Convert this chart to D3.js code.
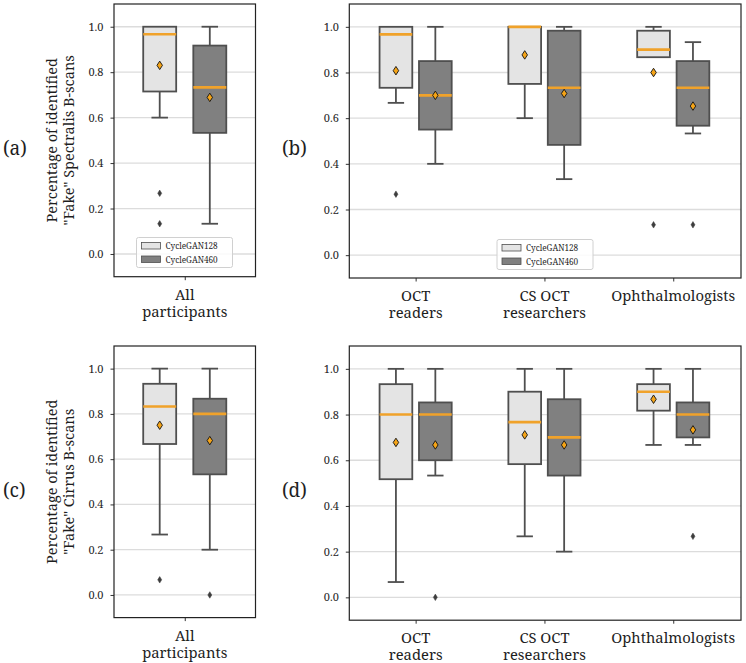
<!DOCTYPE html>
<html>
<head>
<meta charset="utf-8">
<script src="https://cdn.jsdelivr.net/npm/d3@7"></script>
<style>
  body { margin: 0; background: #fff; }
  svg { display: block; }
</style>
</head>
<body>
<svg id="chart" width="746" height="663"></svg>
<script>
// ---------------- DATA ----------------
const seriesNames = ["CycleGAN128", "CycleGAN460"];
const catsAll = [["All", "participants"]];
const catsGroups = [["OCT", "readers"], ["CS OCT", "researchers"], ["Ophthalmologists"]];
const yTicks = [0.0, 0.2, 0.4, 0.6, 0.8, 1.0];
const yLabelSpectralis = ["Percentage of identified", "\"Fake\" Spectralis B-scans"];
const yLabelCirrus = ["Percentage of identified", "\"Fake\" Cirrus B-scans"];
const panelLetters = ["(a)", "(b)", "(c)", "(d)"];

// box stats per category: [q1, median, q3, whiskerLow, whiskerHigh, mean, outliers]
const specAll128 = [[0.715, 0.967, 1.0, 0.600, 1.0, 0.830, [0.267, 0.133]]];
const specAll460 = [[0.533, 0.733, 0.917, 0.133, 1.0, 0.689, []]];
const specGrp128 = [
  [0.733, 0.967, 1.0, 0.667, 1.0, 0.808, [0.267]],
  [0.750, 1.000, 1.0, 0.600, 1.0, 0.877, []],
  [0.867, 0.900, 0.983, 0.867, 1.0, 0.800, [0.133]]
];
const specGrp460 = [
  [0.550, 0.700, 0.850, 0.400, 1.0, 0.700, []],
  [0.483, 0.733, 0.983, 0.333, 1.0, 0.708, []],
  [0.567, 0.733, 0.850, 0.533, 0.933, 0.653, [0.133]]
];
const cirrAll128 = [[0.667, 0.833, 0.933, 0.267, 1.0, 0.750, [0.067]]];
const cirrAll460 = [[0.533, 0.800, 0.867, 0.200, 1.0, 0.682, [0.0]]];
const cirrGrp128 = [
  [0.517, 0.800, 0.933, 0.067, 1.0, 0.678, []],
  [0.583, 0.767, 0.900, 0.267, 1.0, 0.711, []],
  [0.817, 0.900, 0.933, 0.667, 1.0, 0.867, []]
];
const cirrGrp460 = [
  [0.600, 0.800, 0.853, 0.533, 1.0, 0.667, [0.0]],
  [0.533, 0.700, 0.867, 0.200, 1.0, 0.667, []],
  [0.700, 0.800, 0.853, 0.667, 1.0, 0.733, [0.267]]
];

// ---------------- STYLE / LAYOUT ----------------
const fontStack = "'Noto Serif', 'Liberation Serif', serif";
const fills = ["#e4e4e4", "#808080"];
const edge = "#4f4f4f";
const medianColor = "#f0a22a";
const gridColor = "#dcdcdc";
const txt = "#1e1e1e";

const svg = d3.select("#chart");

function diamond(w, h) {
  return `M0,${-h/2}L${w/2},0L0,${h/2}L${-w/2},0Z`;
}

function drawPanel(cfg) {
  const { x0, x1, y0, y1, cats, data, xDomain, hueOff, boxW, legend, ylabel, letter, letterX, letterY, labelX } = cfg;
  const g = svg.append("g");
  const y = d3.scaleLinear().domain([-0.1, 1.1]).range([y1, y0]);
  const x = d3.scaleLinear().domain(xDomain).range([x0, x1]);

  // grid
  g.selectAll("line.grid").data(yTicks).enter().append("line")
    .attr("x1", x0).attr("x2", x1)
    .attr("y1", d => y(d)).attr("y2", d => y(d))
    .attr("stroke", gridColor).attr("stroke-width", 1.3);

  // y axis
  const yAxis = d3.axisLeft(y).tickValues(yTicks).tickFormat(d3.format(".1f")).tickSize(3.5).tickPadding(7);
  const ya = g.append("g").attr("transform", `translate(${x0},0)`).call(yAxis);
  ya.attr("font-family", null).attr("font-size", null);
  ya.select(".domain").remove();
  ya.selectAll("line").attr("stroke", "#333").attr("stroke-width", 1);
  ya.selectAll("text").attr("font-size", 11).attr("fill", txt);

  // x axis ticks
  const xAxis = d3.axisBottom(x).tickValues(d3.range(cats.length)).tickFormat("").tickSize(3.5);
  const xa = g.append("g").attr("transform", `translate(0,${y1})`).call(xAxis);
  xa.select(".domain").remove();
  xa.selectAll("line").attr("stroke", "#333");

  // x labels (one text element per category, lines as tspans)
  cats.forEach((lines, i) => {
    const t = g.append("text").attr("x", x(i)).attr("y", y1 + 23)
      .attr("text-anchor", "middle").attr("font-size", 14.8).attr("fill", txt);
    lines.forEach((s, j) => {
      t.append("tspan").attr("x", x(i)).attr("dy", j === 0 ? 0 : 17).text(s);
    });
  });

  // boxes
  data.forEach((series, si) => {
    series.forEach((s, ci) => {
      const [q1, med, q3, wlo, whi, mean, outs] = s;
      const cx = x(ci + (si === 0 ? -hueOff : hueOff));
      const half = (x(boxW) - x(0)) / 2;
      const bg = g.append("g");
      bg.append("line").attr("x1", cx).attr("x2", cx).attr("y1", y(q3)).attr("y2", y(whi))
        .attr("stroke", edge).attr("stroke-width", 1.8);
      bg.append("line").attr("x1", cx).attr("x2", cx).attr("y1", y(q1)).attr("y2", y(wlo))
        .attr("stroke", edge).attr("stroke-width", 1.8);
      if (whi > q3) bg.append("line").attr("x1", cx - half / 2).attr("x2", cx + half / 2)
        .attr("y1", y(whi)).attr("y2", y(whi)).attr("stroke", edge).attr("stroke-width", 1.8);
      if (wlo < q1) bg.append("line").attr("x1", cx - half / 2).attr("x2", cx + half / 2)
        .attr("y1", y(wlo)).attr("y2", y(wlo)).attr("stroke", edge).attr("stroke-width", 1.8);
      bg.append("rect").attr("x", cx - half).attr("width", 2 * half)
        .attr("y", y(q3)).attr("height", Math.max(0.5, y(q1) - y(q3)))
        .attr("fill", fills[si]).attr("stroke", edge).attr("stroke-width", 1.8);
      bg.append("line").attr("x1", cx - half).attr("x2", cx + half)
        .attr("y1", y(med)).attr("y2", y(med)).attr("stroke", medianColor).attr("stroke-width", 2.6);
      bg.append("path").attr("d", diamond(5.5, 8.5)).attr("transform", `translate(${cx},${y(mean)})`)
        .attr("fill", "#f5a417").attr("stroke", "#111").attr("stroke-width", 0.9);
      outs.forEach(o => {
        bg.append("path").attr("d", diamond(4, 6.5)).attr("transform", `translate(${cx},${y(o)})`)
          .attr("fill", "#3d3d3d").attr("stroke", "#3d3d3d").attr("stroke-width", 0.5);
      });
    });
  });

  // frame
  g.append("rect").attr("x", x0).attr("y", y0).attr("width", x1 - x0).attr("height", y1 - y0)
    .attr("fill", "none").attr("stroke", "#222").attr("stroke-width", 1.2);

  // legend
  if (legend) {
    const lg = g.append("g").attr("transform", `translate(${legend[0]},${legend[1]})`);
    lg.append("rect").attr("width", 96).attr("height", 30).attr("rx", 2)
      .attr("fill", "rgba(255,255,255,0.85)").attr("stroke", "#d0d0d0").attr("stroke-width", 1);
    seriesNames.forEach((n, i) => {
      lg.append("rect").attr("x", 5).attr("y", 5 + i * 13.5).attr("width", 19).attr("height", 6.5)
        .attr("fill", fills[i]).attr("stroke", edge).attr("stroke-width", 0.8);
      lg.append("text").attr("x", 29).attr("y", 11.5 + i * 13.5).attr("font-size", 8.2)
        .attr("fill", txt).text(n);
    });
  }

  // y label
  if (ylabel) {
    const cy = (y0 + y1) / 2;
    ylabel.forEach((t, j) => {
      g.append("text").attr("transform", `translate(${labelX + j * 17.3},${cy}) rotate(-90)`)
        .attr("text-anchor", "middle").attr("font-size", 14.5).attr("fill", txt).text(t);
    });
  }

  // panel letter
  g.append("text").attr("x", letterX).attr("y", letterY).attr("font-size", 19).attr("fill", txt).text(letter);
}

drawPanel({ x0: 114, x1: 255.5, y0: 4, y1: 276.7, cats: catsAll, data: [specAll128, specAll460],
  xDomain: [-0.5, 0.5], hueOff: 0.177, boxW: 0.233, legend: [136.5, 237.5],
  ylabel: yLabelSpectralis, labelX: 57, letter: panelLetters[0], letterX: 3, letterY: 154.5 });
drawPanel({ x0: 349.3, x1: 741, y0: 4, y1: 278, cats: catsGroups, data: [specGrp128, specGrp460],
  xDomain: [-0.515, 2.526], hueOff: 0.153, boxW: 0.254, legend: [497, 239.5],
  ylabel: null, letter: panelLetters[1], letterX: 282, letterY: 154.5 });
drawPanel({ x0: 114, x1: 255.5, y0: 346, y1: 617.6, cats: catsAll, data: [cirrAll128, cirrAll460],
  xDomain: [-0.5, 0.5], hueOff: 0.177, boxW: 0.233, legend: null,
  ylabel: yLabelCirrus, labelX: 57, letter: panelLetters[2], letterX: 3, letterY: 497 });
drawPanel({ x0: 349.3, x1: 741, y0: 346, y1: 620.2, cats: catsGroups, data: [cirrGrp128, cirrGrp460],
  xDomain: [-0.515, 2.526], hueOff: 0.153, boxW: 0.254, legend: null,
  ylabel: null, letter: panelLetters[3], letterX: 282, letterY: 497 });

svg.selectAll("text").style("font-family", fontStack);
</script>
</body>
</html>
